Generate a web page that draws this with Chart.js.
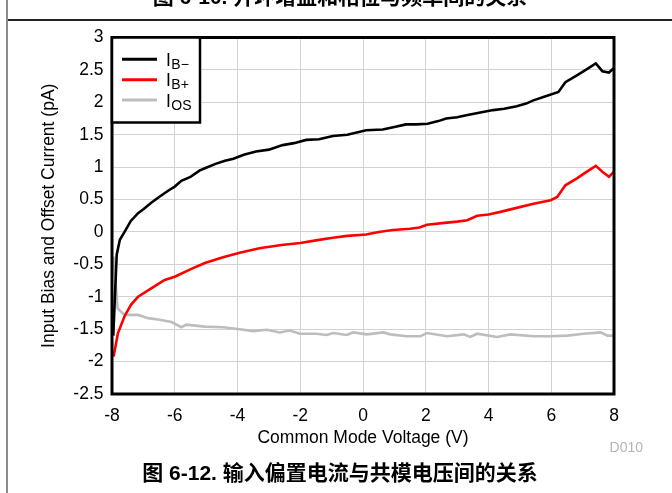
<!DOCTYPE html>
<html lang="zh-CN">
<head>
    <meta charset="UTF-8">
    <title>输入偏置电流与共模电压间的关系</title>
    <script src="https://cdn.jsdelivr.net/npm/chart.js"></script>
    <style>
        html, body {
            margin: 0;
            padding: 0;
            background: #fff;
        }

        #page {
            position: relative;
            width: 672px;
            height: 493px;
            overflow: hidden;
        }

        #myChart {
            position: absolute;
            left: 0;
            top: 0;
        }

        /* 页面边框线 */
        .vline {
            position: absolute;
            left: 6px;
            top: 0;
            width: 2px;
            height: 493px;
            background: #8c8c8c;
        }

        .hline {
            position: absolute;
            left: 8px;
            top: 19px;
            width: 664px;
            height: 1.5px;
            background: #222;
        }

        .caption {
            position: absolute;
            left: 0;
            width: 680px;
            text-align: center;
            font-family: "Liberation Sans", "Noto Sans CJK SC", sans-serif;
            font-weight: bold;
            font-size: 21px;
            line-height: 21px;
            white-space: nowrap;
        }

        #prevCaption { top: -14px; }
        #caption { top: 462px; }

        #figId {
            position: absolute;
            right: 29px;
            top: 440px;
            font-family: "Liberation Sans", Arial, sans-serif;
            font-size: 14px;
            line-height: 14px;
            color: #b4b4b4;
        }
    </style>
</head>
<body>
<div id="page">
    <canvas id="myChart" width="672" height="493"></canvas>
    <div class="vline"></div>
    <div class="hline"></div>
    <div class="caption" id="prevCaption">图 6-10. 开环增益和相位与频率间的关系</div>
    <div class="caption" id="caption">图 6-12. 输入偏置电流与共模电压间的关系</div>
    <div id="figId">D010</div>
</div>

<script>
    // I_B− (黑)
    var ibMinusV = [-7.96, -7.85, -7.75, -7.6, -7.4, -7.17, -7.0, -6.75, -6.5, -6.2, -6.0, -5.79, -5.5, -5.2,
        -5.0, -4.7, -4.4, -4.13, -3.8, -3.41, -3.0, -2.56, -2.2, -1.81, -1.4, -0.96, -0.5, 0.1, 0.63, 1.0,
        1.37, 1.7, 2.06, 2.4, 2.65, 3.0, 3.29, 3.7, 4.15, 4.5, 4.9, 5.2, 5.43, 5.8, 6.23, 6.45, 6.83, 7.1,
        7.42, 7.63, 7.84, 8.0];
    var ibMinusI = [-1.6, -0.35, -0.12, 0.0, 0.17, 0.29, 0.35, 0.45, 0.54, 0.64, 0.70, 0.79, 0.85, 0.95,
        0.99, 1.05, 1.10, 1.13, 1.19, 1.24, 1.27, 1.34, 1.37, 1.42, 1.43, 1.48, 1.50, 1.57, 1.58, 1.62,
        1.66, 1.66, 1.67, 1.71, 1.75, 1.77, 1.80, 1.84, 1.88, 1.90, 1.94, 1.98, 2.03, 2.09, 2.16, 2.31, 2.42, 2.50,
        2.60, 2.48, 2.46, 2.53];

    // I_B+ (红)
    var ibPlusV = [-7.95, -7.81, -7.6, -7.39, -7.17, -6.75, -6.32, -6.0, -5.47, -5.04, -4.46, -3.93, -3.3,
        -2.6, -2.0, -1.5, -0.96, -0.5, 0.1, 0.5, 0.95, 1.5, 1.8, 2.04, 2.6, 3.0, 3.32, 3.64, 4.0, 4.38, 4.8,
        5.4, 5.98, 6.19, 6.45, 6.83, 7.1, 7.42, 7.63, 7.84, 8.0];
    var ibPlusI = [-1.92, -1.56, -1.30, -1.12, -1.0, -0.87, -0.74, -0.69, -0.57, -0.48, -0.39, -0.32, -0.25,
        -0.20, -0.17, -0.13, -0.09, -0.06, -0.04, 0.0, 0.03, 0.05, 0.07, 0.11, 0.14, 0.16, 0.18, 0.25, 0.27, 0.31, 0.36,
        0.43, 0.49, 0.54, 0.72, 0.83, 0.92, 1.02, 0.93, 0.85, 0.93];

    // I_OS (灰)
    var iosV = [-7.95, -7.82, -7.6, -7.17, -6.85, -6.53, -6.1, -5.79, -5.63, -5.04, -4.46, -3.93, -3.5, -3.07,
        -2.65, -2.33, -2.01, -1.48, -1.16, -0.95, -0.52, -0.31, 0.12, 0.65, 0.87, 1.4, 1.82, 2.04, 2.68, 3.21,
        3.42, 3.64, 4.27, 4.7, 5.44, 5.98, 6.51, 7.04, 7.58, 7.79, 8.0];
    var iosI = [-0.38, -1.18, -1.28, -1.28, -1.33, -1.35, -1.39, -1.47, -1.43, -1.46, -1.47, -1.50, -1.53, -1.51,
        -1.55, -1.52, -1.57, -1.57, -1.59, -1.56, -1.59, -1.55, -1.58, -1.55, -1.58, -1.61, -1.61, -1.56, -1.61, -1.58,
        -1.62, -1.57, -1.62, -1.58, -1.61, -1.61, -1.60, -1.57, -1.55, -1.60, -1.60];

    var legendMain = ['I', 'I', 'I'];
    var legendSub = ['B\u2212', 'B+', 'OS'];
    var seriesColors = ['#000000', '#ff0000', '#bdbdbd'];

    var xMin = -8, xMax = 8, xStep = 2;
    var yMin = -2.5, yMax = 3, yStep = 0.5;

    var latinFont = '"Liberation Sans", Arial, sans-serif';

    function toPoints(xs, ys) {
        var pts = [];
        for (var i = 0; i < xs.length; i++) {
            pts.push({ x: xs[i], y: ys[i] });
        }
        return pts;
    }

    // 图框和图例（带下标）
    var frameAndLegend = {
        id: 'frameAndLegend',
        afterDatasetsDraw: function (chart) {
            var ctx = chart.ctx;
            var a = chart.chartArea;
            ctx.save();
            ctx.strokeStyle = '#000';
            ctx.lineWidth = 3;
            ctx.strokeRect(a.left, a.top, a.right - a.left, a.bottom - a.top);

            var bx = a.left, by = a.top, bw = 88, bh = 85;
            ctx.fillStyle = '#fff';
            ctx.fillRect(bx, by, bw, bh);
            ctx.lineWidth = 2.5;
            ctx.strokeRect(bx, by, bw, bh);

            chart.data.datasets.forEach(function (ds, i) {
                var y = by + 21.8 + i * 20.4;
                ctx.strokeStyle = ds.borderColor;
                ctx.lineWidth = 3;
                ctx.beginPath();
                ctx.moveTo(bx + 10, y);
                ctx.lineTo(bx + 45, y);
                ctx.stroke();

                ctx.fillStyle = '#000';
                ctx.textBaseline = 'alphabetic';
                ctx.textAlign = 'left';
                ctx.font = '17.5px ' + latinFont;
                ctx.fillText(legendMain[i], bx + 54, y + 6.5);
                var w = ctx.measureText(legendMain[i]).width;
                ctx.font = '14px ' + latinFont;
                ctx.fillText(legendSub[i], bx + 54 + w + 0.5, y + 9.5);
            });
            ctx.restore();
        }
    };

    var ctx = document.getElementById('myChart').getContext('2d');
    var myChart = new Chart(ctx, {
        type: 'line',
        data: {
            datasets: [
                { label: 'IB\u2212', data: toPoints(ibMinusV, ibMinusI), borderColor: seriesColors[0] },
                { label: 'IB+', data: toPoints(ibPlusV, ibPlusI), borderColor: seriesColors[1] },
                { label: 'IOS', data: toPoints(iosV, iosI), borderColor: seriesColors[2] }
            ]
        },
        options: {
            responsive: false,
            animation: false,
            devicePixelRatio: 1,
            layout: {
                padding: { left: 0, top: 37.5, right: 58, bottom: 39 }
            },
            elements: {
                line: { borderWidth: 2.6, tension: 0, fill: false },
                point: { radius: 0, hoverRadius: 0 }
            },
            plugins: {
                legend: { display: false },
                tooltip: { enabled: false }
            },
            scales: {
                x: {
                    type: 'linear',
                    min: xMin,
                    max: xMax,
                    afterFit: function (axis) { axis.height = 60; },
                    ticks: {
                        stepSize: xStep,
                        color: '#000',
                        padding: 12,
                        maxRotation: 0,
                        font: { family: latinFont, size: 17.5 },
                        callback: function (v) { return String(v); }
                    },
                    grid: { color: '#d2d2d2', lineWidth: 1, drawTicks: false },
                    border: { display: false },
                    title: {
                        display: true,
                        text: 'Common Mode Voltage (V)',
                        color: '#000',
                        font: { family: latinFont, size: 17.5 },
                        padding: { top: 0, bottom: 5.5 }
                    }
                },
                y: {
                    type: 'linear',
                    min: yMin,
                    max: yMax,
                    afterFit: function (axis) { axis.width = 112; },
                    ticks: {
                        stepSize: yStep,
                        color: '#000',
                        padding: 8.5,
                        font: { family: latinFont, size: 17.5 },
                        callback: function (v) { return String(v); }
                    },
                    grid: { color: '#d2d2d2', lineWidth: 1, drawTicks: false },
                    border: { display: false },
                    title: {
                        display: true,
                        text: 'Input Bias and Offset Current (pA)',
                        color: '#000',
                        font: { family: latinFont, size: 17.5 },
                        padding: { top: 38.5, bottom: 0 }
                    }
                }
            }
        },
        plugins: [frameAndLegend]
    });
</script>
</body>
</html>
